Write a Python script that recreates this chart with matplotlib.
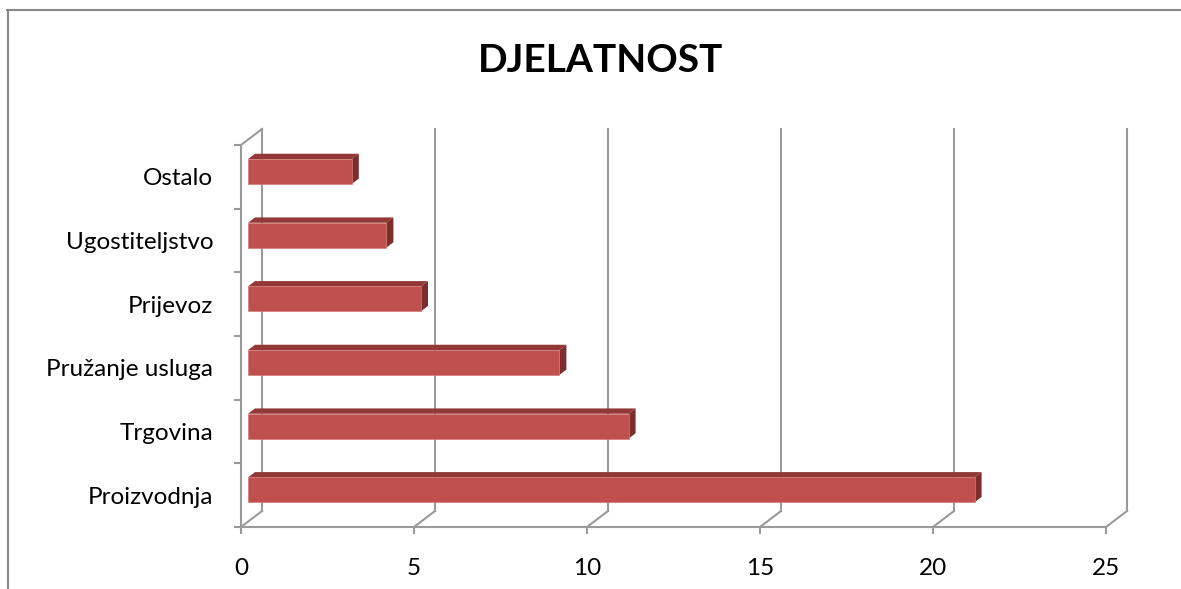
import matplotlib
matplotlib.use("Agg")
import matplotlib.pyplot as plt
from matplotlib.patches import Polygon
from matplotlib.lines import Line2D

# data
categories = ["Proizvodnja", "Trgovina", "Pružanje usluga", "Prijevoz", "Ugostiteljstvo", "Ostalo"]
values = [21, 11, 9, 5, 4, 3]
xticks = [0, 5, 10, 15, 20, 25]
title = "DJELATNOST"

plt.rcParams['font.family'] = ['Lato', 'DejaVu Sans']

W, H = 1181, 589
fig = plt.figure(figsize=(W / 100, H / 100), dpi=100)

# plot area = front plane of the 3D box (pixels measured from reference)
x0px, x1px, ybot_px, ytop_px = 241, 1106, 527, 145
ax = fig.add_axes([x0px / W, (H - ybot_px) / H, (x1px - x0px) / W, (ybot_px - ytop_px) / H])
ax.set_xlim(0, 25)
ax.set_ylim(-0.5, len(categories) - 0.5)
for s in ax.spines.values():
    s.set_visible(False)

grid = "#9a9a9a"
lw = 1.5
# depth vector in data units
ddx = 21 / ((x1px - x0px) / 25)
ddy = 16 / ((ybot_px - ytop_px) / len(categories))
ymin, ymax = -0.5, len(categories) - 0.5

# back wall gridlines + floor diagonals
for t in xticks:
    ax.plot([t + ddx, t + ddx], [ymin + ddy, ymax + ddy], color=grid, lw=lw, clip_on=False, zorder=1)
    ax.plot([t, t + ddx], [ymin, ymin + ddy], color=grid, lw=lw, clip_on=False, zorder=1)
# front floor edge
ax.plot([0, 25], [ymin, ymin], color=grid, lw=lw, clip_on=False, zorder=1)
# left wall
ax.plot([0, 0], [ymin, ymax], color=grid, lw=lw, clip_on=False, zorder=1)
ax.plot([0, ddx], [ymax, ymax + ddy], color=grid, lw=lw, clip_on=False, zorder=1)

# bars (front face at 1/3 depth, back at 2/3)
front_c = "#C0504D"
top_c = "#923937"
side_c = "#7B2E2C"
h = 0.39
d, dd = ddx / 3, ddy / 3
for i, v in enumerate(values):
    xa, xb = d, v + d
    ya, yb = i - h / 2 + dd, i + h / 2 + dd
    ax.add_patch(Polygon([(xa, yb), (xb, yb), (xb + d, yb + dd), (xa + d, yb + dd)],
                         closed=True, facecolor=top_c, edgecolor="none", clip_on=False, zorder=3))
    ax.add_patch(Polygon([(xb, ya), (xb, yb), (xb + d, yb + dd), (xb + d, ya + dd)],
                         closed=True, facecolor=side_c, edgecolor="none", clip_on=False, zorder=3))
    ax.add_patch(Polygon([(xa, ya), (xb, ya), (xb, yb), (xa, yb)],
                         closed=True, facecolor=front_c, edgecolor="#D37A76", lw=0.5,
                         clip_on=False, zorder=4))

# ticks and labels
ax.set_xticks(xticks)
ax.set_xticklabels([str(t) for t in xticks])
ax.tick_params(axis="x", length=5, width=lw, color=grid, pad=17, labelsize=17.5)
ax.set_yticks(range(len(categories)))
ax.set_yticklabels(categories)
ax.tick_params(axis="y", which="major", length=0, pad=20, labelsize=17.5)
ax.set_yticks([k - 0.5 for k in range(len(categories) + 1)], minor=True)
ax.tick_params(axis="y", which="minor", length=5, width=lw, color=grid)

fig.text(601 / W, 1 - 61 / H, title, ha="center", va="center", fontsize=28, fontweight="bold")

# outer frame (top and left edges visible in the reference)
fig.add_artist(Line2D([7 / W, 1], [1 - 10 / H, 1 - 10 / H], color="#888888", lw=1.5))
fig.add_artist(Line2D([8 / W, 8 / W], [0, 1 - 10 / H], color="#888888", lw=1.5))

fig.savefig("out.png", dpi=100)
